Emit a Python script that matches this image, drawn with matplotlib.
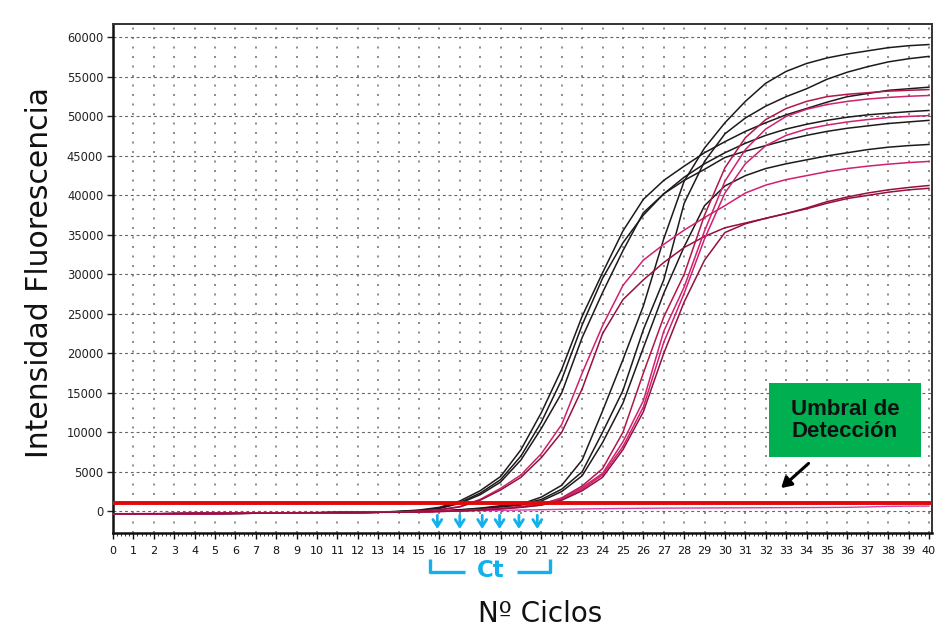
import matplotlib
matplotlib.use("Agg")
import matplotlib.pyplot as plt
from matplotlib.ticker import MultipleLocator
from matplotlib.patches import Rectangle

# ---------------- data ----------------
cycles = list(range(41))
baseline_early = [-350, -335, -320, -305, -290, -275, -260, -245, -230, -210, -190, -170, -150, -125]  # cycles 0..13

# values for cycles 14..40
L1 = [0, 150, 500, 1300, 2600, 4400, 7800, 12500, 18000, 24700, 30200, 35500, 39500, 41900, 43700, 45400, 46800, 48100, 49200, 50200, 51000, 51800, 52500, 52900, 53300, 53500, 53700]
L2 = [-50, 100, 400, 1100, 2300, 4000, 7000, 11300, 16700, 23600, 29500, 34000, 37500, 40200, 42300, 44000, 45400, 46600, 47600, 48400, 49000, 49500, 49900, 50200, 50400, 50600, 50750]
L3 = [-50, 80, 350, 1000, 2100, 3700, 6500, 10500, 15000, 22000, 27700, 33000, 37800, 40200, 41900, 43300, 44800, 45600, 46300, 47000, 47600, 48100, 48500, 48800, 49100, 49300, 49500]
L4 = [-80, 0, 200, 600, 1500, 2900, 4600, 7300, 11000, 17500, 23500, 28600, 31800, 33800, 35600, 37200, 38700, 40300, 41300, 42000, 42500, 43000, 43400, 43700, 43950, 44150, 44300]
L5 = [-80, 0, 180, 550, 1400, 2700, 4300, 6800, 10000, 15500, 22500, 26800, 29300, 31500, 33400, 34800, 35900, 36500, 37100, 37700, 38400, 39200, 39800, 40300, 40700, 41000, 41250]
R1 = [-100, -50, 50, 200, 400, 700, 900, 1800, 3300, 6500, 12700, 19200, 26000, 34500, 41800, 46000, 49200, 51900, 54200, 55700, 56700, 57400, 57900, 58300, 58700, 58950, 59100]
R2 = [-100, -60, 30, 150, 350, 600, 850, 1500, 2800, 5000, 10000, 15300, 23000, 29300, 39000, 44300, 47800, 49800, 51300, 52500, 53500, 54700, 55600, 56300, 56900, 57300, 57600]
R3 = [-100, -60, 20, 120, 300, 550, 800, 1300, 2500, 4500, 8700, 13700, 20700, 27600, 33500, 38700, 41200, 42500, 43400, 44000, 44500, 45000, 45400, 45800, 46100, 46300, 46450]
P1 = [-120, -80, 0, 80, 200, 380, 600, 900, 1700, 3200, 5400, 10000, 17500, 24600, 30000, 37500, 43500, 47300, 49600, 51000, 51900, 52500, 52800, 53000, 53200, 53300, 53400]
P2 = [-120, -80, -10, 60, 180, 350, 550, 850, 1600, 3000, 4800, 8800, 14000, 22800, 28400, 35500, 41800, 45800, 48400, 50000, 50900, 51500, 51900, 52200, 52400, 52550, 52650]
P3 = [-120, -90, -20, 50, 160, 320, 520, 800, 1500, 2800, 4600, 8200, 13200, 21400, 27600, 34500, 40300, 44000, 46300, 47600, 48400, 48900, 49300, 49600, 49850, 50000, 50100]
P4 = [-120, -90, -30, 40, 150, 300, 500, 780, 1400, 2600, 4300, 7800, 12600, 20000, 26500, 31800, 35300, 36400, 37100, 37700, 38300, 39000, 39600, 40000, 40400, 40700, 40900]
NTC = [-300, -290, -280, -270, -260, -250, -230, -210, -190, -170, -150, -120, -100, -80, -50, -20, 0, 40, 80, 120, 160, 200, 250, 300, 330, 360, 380, 400, 410, 420, 430, 440, 450, 460, 470, 480, 500, 550, 620, 650, 660]

threshold = 1000
ct_values = [15.9, 17.0, 18.1, 18.95, 19.9, 20.8]

black = "#1e1a1c"
pink = "#d0206e"
pinkred = "#b01848"
darkred = "#96103c"
series = [
    (L1, black), (L2, black), (L3, black),
    (R1, black), (R2, black), (R3, black),
    (L4, pink), (L5, darkred),
    (P1, pinkred), (P2, pink), (P3, pink), (P4, darkred),
]

# ---------------- figure ----------------
fig = plt.figure(figsize=(9.41, 6.43), dpi=100)
ax = fig.add_axes([113 / 941, 1 - 533 / 643, 819 / 941, 509 / 643])

ax.set_xlim(0, 40.15)
ax.set_ylim(-2750, 61700)
ax.set_xticks(range(0, 41))
ax.set_yticks(range(0, 60001, 5000))
ax.xaxis.set_minor_locator(MultipleLocator(0.2))

ax.set_axisbelow(True)
ax.grid(axis="x", which="major", linestyle=(0, (1.2, 4.5)), color="#7a7a7a", lw=1.2)
ax.grid(axis="y", which="major", linestyle=(0, (2.6, 2.6)), color="#666666", lw=0.8)

ax.tick_params(axis="x", which="major", length=4, width=1, pad=5, labelsize=8, colors="#111111")
ax.tick_params(axis="x", which="minor", length=2.5, width=0.7, color="#333333")
ax.tick_params(axis="y", which="major", length=4, width=1, pad=3, labelsize=8.3, colors="#222222")

for s in ["left", "bottom"]:
    ax.spines[s].set_linewidth(1.8)
    ax.spines[s].set_color("#111111")
for s in ["top", "right"]:
    ax.spines[s].set_linewidth(1.4)
    ax.spines[s].set_color("#333333")

# NTC / flat curve
ax.plot(cycles, NTC, color="#d040a8", lw=1.0, zorder=3)
# amplification curves
for vals, col in series:
    ax.plot(cycles, baseline_early + vals, color=col, lw=1.1, zorder=4)

# threshold line
ax.axhline(threshold, color="#e00808", lw=2.8, zorder=5)

# Green label box
ax.add_patch(Rectangle((32.16, 6835), 7.45, 9365, facecolor="#00b050", edgecolor="none", zorder=6))
ax.text(35.88, 11500, "Umbral de\nDetección", ha="center", va="center", fontsize=16,
        fontweight="bold", family="Liberation Sans", color="#111111", linespacing=1.1, zorder=7)
ax.annotate("", xy=(32.65, 2700), xytext=(34.2, 6300),
            arrowprops=dict(arrowstyle="-|>,head_length=0.6,head_width=0.35", color="black", lw=2.2),
            zorder=7)

# Ct arrows
cyan = "#12b0ec"
for c in ct_values:
    ax.annotate("", xy=(c, -2600), xytext=(c, -150),
                arrowprops=dict(arrowstyle="->,head_length=0.5,head_width=0.32", color=cyan, lw=2.0),
                annotation_clip=False, zorder=8)

# Ct bracket below tick labels
yb_top, yb_bot = -6000, -7750
ax.plot([15.55, 15.55, 17.25], [yb_top, yb_bot, yb_bot], color=cyan, lw=2.4, clip_on=False,
        solid_capstyle="butt")
ax.plot([19.8, 21.4, 21.4], [yb_bot, yb_bot, yb_top], color=cyan, lw=2.4, clip_on=False,
        solid_capstyle="butt")
ax.text(18.5, -7550, "Ct", ha="center", va="center", fontsize=16.5, fontweight="bold",
        color=cyan, clip_on=False)

# axis labels
fig.text(40 / 941, 1 - 272 / 643, "Intensidad Fluorescencia", rotation=90, ha="center",
         va="center", fontsize=21.5, color="#111111")
fig.text(540 / 941, 1 - 614 / 643, "Nº Ciclos", ha="center", va="center", fontsize=20,
         color="#111111")

fig.savefig("out.png", dpi=100, facecolor="white")
